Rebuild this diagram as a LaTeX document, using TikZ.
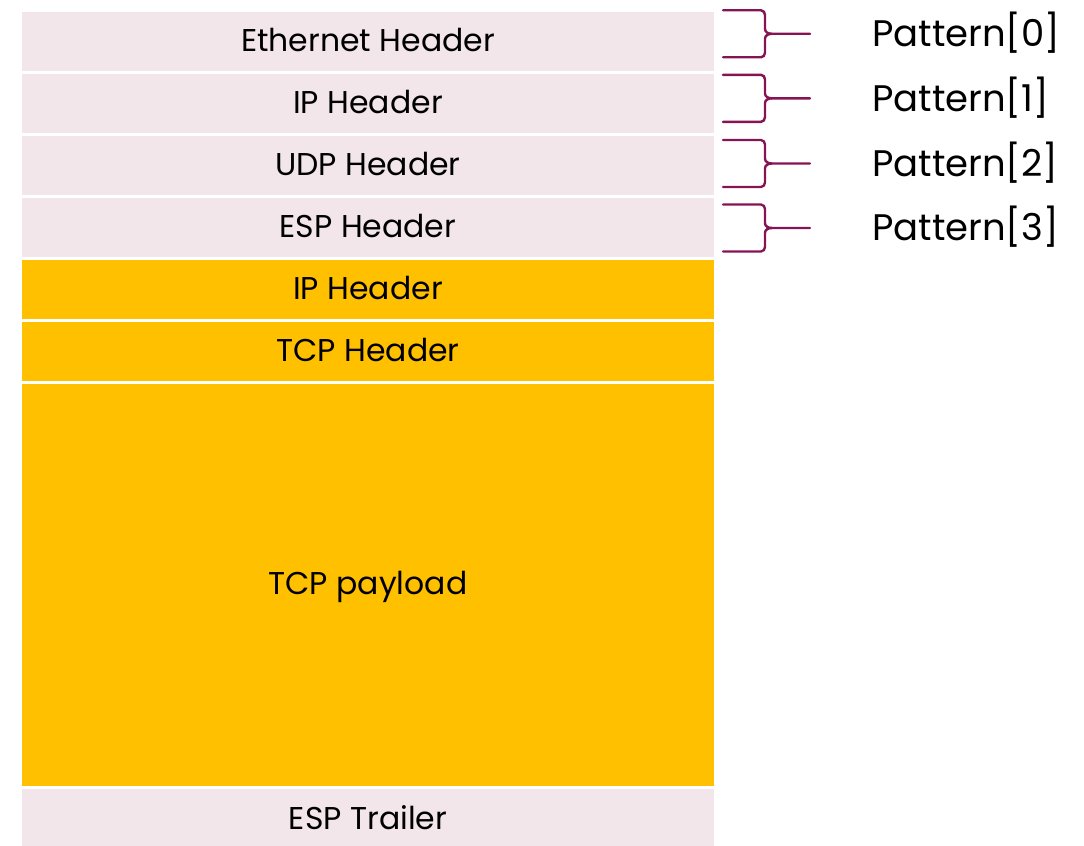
\documentclass[tikz,border=0pt]{standalone}
\usepackage{fontspec}
\setmainfont{Poppins}
\usetikzlibrary{positioning}
\definecolor{rowpink}{RGB}{242,230,235}
\definecolor{payorange}{RGB}{255,192,0}
\definecolor{bracered}{RGB}{134,20,84}

\begin{document}
\begin{tikzpicture}[node distance=0.075cm,
    row/.style={rectangle,minimum width=17.3cm,minimum height=1.475cm,
                inner sep=0pt,outer sep=0pt,text height=14pt,text depth=0pt,
                font=\fontsize{22.4}{26}\selectfont},
    outer row/.style={row,fill=rowpink},
    inner row/.style={row,fill=payorange},
    pattern label/.style={inner sep=0pt,text height=18.4pt,text depth=0pt,
                          font=\fontsize{26.3}{30}\selectfont},
    brace line/.style={draw=bracered,line width=1.7pt,line cap=round},
    patbrace/.pic={
      \draw[brace line] (0,0.5875) -- (0.95,0.5875) to[out=0,in=90] (1.05,0.47)
        -- (1.05,0.12) to[out=-90,in=180] (1.22,0) -- (2.175,0);
      \draw[brace line] (0,-0.5875) -- (0.95,-0.5875) to[out=0,in=-90] (1.05,-0.47)
        -- (1.05,-0.12) to[out=90,in=180] (1.22,0);
      \coordinate (-end) at (2.175,0);
    }]

  \useasboundingbox (0,0) rectangle (27.1,-21.125);

  % packet rows
  \node[outer row] (eth) at (9.2,-1.0375) {Ethernet Header};
  \node[outer row] (ip1) [below=of eth] {IP Header};
  \node[outer row] (udp) [below=of ip1] {UDP Header};
  \node[outer row] (esp) [below=of udp] {ESP Header};
  \node[inner row] (ip2) [below=of esp] {IP Header};
  \node[inner row] (tcp) [below=of ip2] {TCP Header};
  \node[inner row,minimum height=10.05cm] (pay) [below=of tcp] {TCP payload};
  \node[outer row,minimum height=1.55cm] (trl) [below=of pay] {ESP Trailer};

  % patterns
  \pic (b0) at (18.075,-0.845) {patbrace};
  \pic (b1) at (18.075,-2.458) {patbrace};
  \pic (b2) at (18.075,-4.0875) {patbrace};
  \pic (b3) at (18.075,-5.7) {patbrace};

  \node[pattern label,right=1.55cm of b0-end] (p0) {Pattern[0]};
  \node[pattern label,right=1.55cm of b1-end] (p1) {Pattern[1]};
  \node[pattern label,right=1.55cm of b2-end] (p2) {Pattern[2]};
  \node[pattern label,right=1.55cm of b3-end] (p3) {Pattern[3]};

\end{tikzpicture}
\end{document}
